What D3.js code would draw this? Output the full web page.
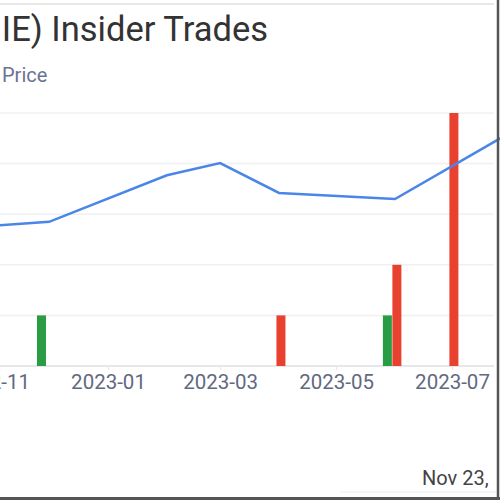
<!DOCTYPE html>
<html>
<head>
<meta charset="utf-8">
<script src="https://cdn.jsdelivr.net/npm/d3@7"></script>
<style>
  html, body { margin: 0; padding: 0; background: #fff; }
  svg { display: block; font-family: Roboto, "Liberation Sans", sans-serif; }
</style>
</head>
<body>
<div id="chart"></div>
<script>
// price line (month points)
var priceDates = ["2022-11-01", "2022-12-01", "2023-02-01", "2023-03-01", "2023-04-01", "2023-06-01", "2023-08-01"];
var priceValues = [2.77, 2.85, 3.77, 4.01, 3.42, 3.30, 4.62];

// insider trades
var tradeDates = ["2022-11-27", "2023-04-02", "2023-05-28", "2023-06-02", "2023-07-02"];
var tradeShares = [1, 1, 1, 2, 5];
var tradeTypes = ["buy", "sell", "buy", "sell", "sell"];

var tickDates = ["2022-11-01", "2023-01-01", "2023-03-01", "2023-05-01", "2023-07-01"];
var gridValues = [0, 1, 2, 3, 4, 5];

var parse = d3.timeParse("%Y-%m-%d");
var W = 500, H = 500;

var svg = d3.select('#chart')
    .append('svg')
    .attr('width', W)
    .attr('height', H);

var x = d3.scaleTime()
    .domain([parse("2023-01-01"), parse("2023-07-01")])
    .range([108, 452]);

var y = d3.scaleLinear()
    .domain([0, 5])
    .range([366, 113]);

// top separator
svg.append('line')
    .attr('x1', 0).attr('x2', 494)
    .attr('y1', 4).attr('y2', 4)
    .attr('stroke', '#e8e8e8')
    .attr('stroke-width', 2);

// title (left part is cut off in the picture)
svg.append('text')
    .attr('x', 268)
    .attr('y', 41)
    .attr('text-anchor', 'end')
    .attr('font-size', 34.5)
    .attr('fill', '#333')
    .text('IE) Insider Trades');

svg.append('text')
    .attr('x', 2)
    .attr('y', 82)
    .attr('font-size', 20)
    .attr('fill', '#6b7394')
    .text('Price');

// grid lines
svg.append('g')
    .selectAll('line')
    .data(gridValues)
    .enter()
    .append('line')
    .attr('x1', 0).attr('x2', 494)
    .attr('y1', function(d){ return y(d); })
    .attr('y2', function(d){ return y(d); })
    .attr('stroke', function(d){ return d === 0 ? '#dcdfe4' : '#eef0f2'; })
    .attr('stroke-width', 1.5);

// x axis
var xAxis = d3.axisBottom(x)
    .tickValues(tickDates.map(parse))
    .tickFormat(d3.timeFormat("%Y-%m"))
    .tickSize(4)
    .tickPadding(4);

var gx = svg.append('g')
    .attr('transform', 'translate(0,' + y(0) + ')')
    .call(xAxis);
gx.select('.domain').remove();
gx.selectAll('.tick line').attr('stroke', '#e4e6ea');
gx.selectAll('.tick text')
    .attr('font-size', 20.5)
    .attr('font-family', 'Roboto, sans-serif')
    .attr('fill', '#62697f');

// trade bars
var bw = 9;
svg.append('g')
    .selectAll('rect')
    .data(tradeDates)
    .enter()
    .append('rect')
    .attr('x', function(d){ return x(parse(d)) - bw / 2; })
    .attr('y', function(d, i){ return y(tradeShares[i]); })
    .attr('width', bw)
    .attr('height', function(d, i){ return y(0) - y(tradeShares[i]); })
    .attr('fill', function(d, i){ return tradeTypes[i] === 'buy' ? '#2a9d44' : '#e8412f'; });

// price line
var line = d3.line()
    .x(function(d){ return x(parse(d)); })
    .y(function(d, i){ return y(priceValues[i]); });

svg.append('path')
    .datum(priceDates)
    .attr('d', line)
    .attr('fill', 'none')
    .attr('stroke', '#4a86e8')
    .attr('stroke-width', 2.5);

// footer date
svg.append('text')
    .attr('x', 422)
    .attr('y', 485)
    .attr('font-size', 20)
    .attr('fill', '#444')
    .text('Nov 23,');

// bottom separator and frame edges
svg.append('line')
    .attr('x1', 340).attr('x2', 496)
    .attr('y1', 492).attr('y2', 492)
    .attr('stroke', '#ececec')
    .attr('stroke-width', 1);

svg.append('line')
    .attr('x1', 498).attr('x2', 498)
    .attr('y1', 0).attr('y2', H)
    .attr('stroke', '#555')
    .attr('stroke-width', 2.5);

svg.append('line')
    .attr('x1', 0).attr('x2', W)
    .attr('y1', 498.5).attr('y2', 498.5)
    .attr('stroke', '#555')
    .attr('stroke-width', 3);
</script>
</body>
</html>
